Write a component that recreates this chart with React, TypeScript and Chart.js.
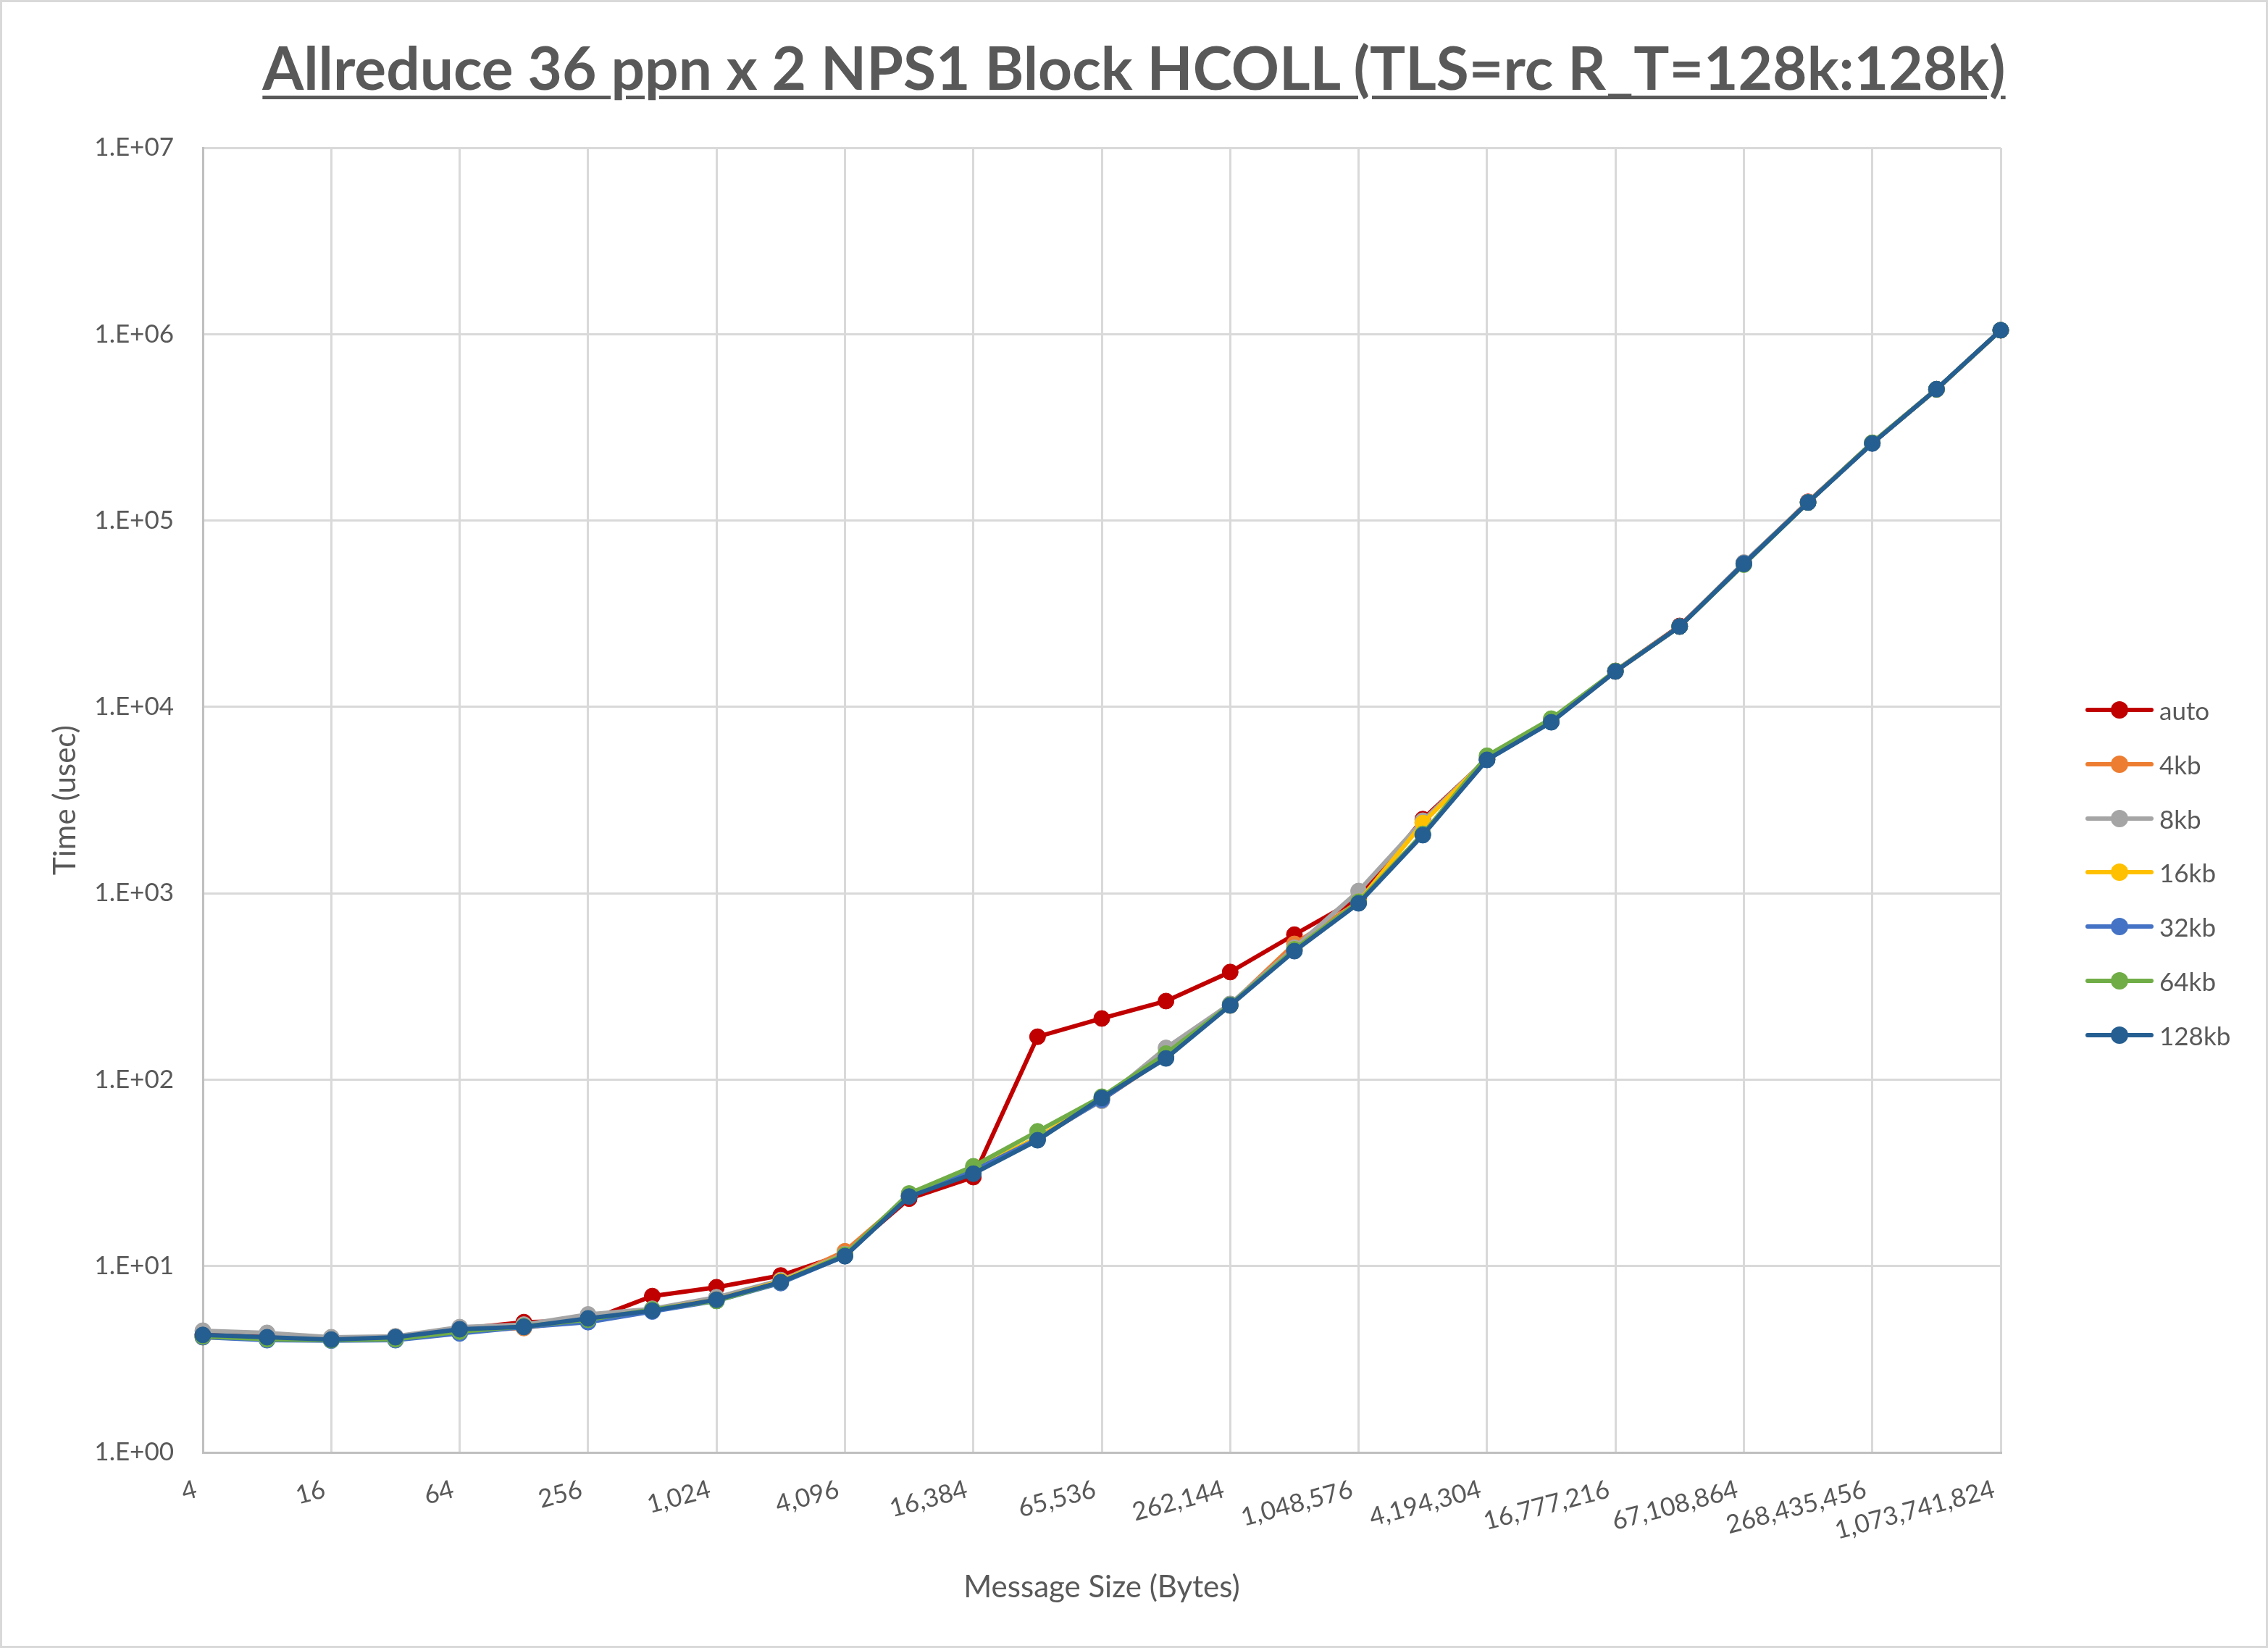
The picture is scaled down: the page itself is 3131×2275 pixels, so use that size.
import React, { useEffect, useRef } from "react";
import { Chart, registerables } from "chart.js";

Chart.register(...registerables);

// ---- data ----
const messageSizes = [
  "4", "8", "16", "32", "64", "128", "256", "512", "1,024", "2,048", "4,096",
  "8,192", "16,384", "32,768", "65,536", "131,072", "262,144", "524,288",
  "1,048,576", "2,097,152", "4,194,304", "8,388,608", "16,777,216",
  "33,554,432", "67,108,864", "134,217,728", "268,435,456", "536,870,912",
  "1,073,741,824",
];

const seriesNames = ["auto", "4kb", "8kb", "16kb", "32kb", "64kb", "128kb"];
const seriesColors = ["#C00000", "#ED7D31", "#A5A5A5", "#FFC000", "#4472C4", "#70AD47", "#255E91"];

const autoTimes = [4.3, 4.2, 4.1, 4.15, 4.6, 5.0, 5.1, 6.9, 7.7, 8.9, 11.6, 23.0, 30, 170, 213, 264, 378, 600, 940, 2500, 5250, 8400, 15600, 27200, 59000, 126000, 260000, 506000, 1050000];
const kb4Times = [4.2, 4.1, 4.05, 4.1, 4.5, 4.65, 5.2, 5.8, 6.7, 8.3, 12.0, 23.8, 32, 48, 78, 132, 252, 535, 900, 2400, 5250, 8350, 15500, 27000, 59000, 125000, 261000, 506000, 1050000];
const kb8Times = [4.5, 4.38, 4.15, 4.2, 4.7, 4.85, 5.5, 5.9, 6.8, 8.4, 11.6, 24, 32.5, 49, 77, 148, 255, 510, 1028, 2450, 5300, 8400, 15600, 27000, 59500, 125500, 261000, 506000, 1050000];
const kb16Times = [4.15, 4.05, 4.0, 4.05, 4.45, 4.7, 5.1, 5.8, 6.6, 8.3, 11.5, 24, 33, 49, 79, 135, 250, 500, 900, 2380, 5300, 8350, 15500, 27000, 59000, 125000, 261000, 506000, 1050000];
const kb32Times = [4.15, 4.0, 3.98, 4.0, 4.35, 4.7, 5.0, 5.7, 6.5, 8.1, 11.3, 23.8, 32.5, 48, 78, 133, 252, 495, 890, 2080, 5200, 8300, 15500, 27000, 59000, 125000, 261000, 506000, 1050000];
const kb64Times = [4.2, 4.05, 4.0, 4.05, 4.45, 4.75, 5.15, 5.85, 6.5, 8.2, 11.5, 24.5, 34.3, 52.8, 81, 138, 252, 500, 900, 2080, 5470, 8650, 15600, 27000, 58000, 125000, 261000, 506000, 1050000];
const kb128Times = [4.27, 4.15, 4.03, 4.15, 4.58, 4.72, 5.24, 5.76, 6.6, 8.2, 11.3, 23.6, 31.3, 47.3, 79.8, 130, 250, 489, 883, 2050, 5200, 8270, 15500, 27000, 58500, 125000, 259000, 507000, 1050000];

const yTickValues = [1, 10, 100, 1000, 10000, 100000, 1000000, 10000000];
const yTickLabels = ["1.E+00", "1.E+01", "1.E+02", "1.E+03", "1.E+04", "1.E+05", "1.E+06", "1.E+07"];

const chartTitle = "Allreduce 36 ppn x 2 NPS1 Block HCOLL (TLS=rc R_T=128k:128k)";
const xTitle = "Message Size (Bytes)";
const yTitle = "Time (usec)";

const allSeries = [autoTimes, kb4Times, kb8Times, kb16Times, kb32Times, kb64Times, kb128Times];

const W = 3131;
const H = 2275;
const TEXT = "#595959";
const FONT = "Lato";

export default function App() {
  const ref = useRef<HTMLCanvasElement>(null);

  useEffect(() => {
    const canvas = ref.current;
    if (!canvas) return;
    const chart = new Chart(canvas, {
      type: "line",
      data: {
        labels: messageSizes,
        datasets: allSeries.map((vals, i) => ({
          label: seriesNames[i],
          data: vals,
          borderColor: seriesColors[i],
          backgroundColor: seriesColors[i],
          pointBackgroundColor: seriesColors[i],
          pointBorderColor: seriesColors[i],
          borderWidth: 6,
          pointRadius: 11,
          pointBorderWidth: 1,
          tension: 0,
          order: allSeries.length - i,
        })),
      },
      options: {
        responsive: false,
        devicePixelRatio: 1,
        animation: false,
        layout: { padding: { top: 204, right: 369, bottom: 0, left: 0 } },
        plugins: {
          legend: { display: false },
          title: { display: false },
          tooltip: { enabled: false },
        },
        scales: {
          x: {
            type: "category",
            offset: false,
            grid: {
              color: (ctx: any) => (ctx.index % 2 === 0 ? "#D9D9D9" : "rgba(0,0,0,0)"),
              lineWidth: 3,
              drawTicks: false,
            },
            border: { color: "#BFBFBF", width: 3 },
            ticks: {
              autoSkip: false,
              minRotation: 15,
              maxRotation: 15,
              padding: 30,
              labelOffset: -9,
              color: TEXT,
              font: { family: FONT, size: 35 },
              callback: (_v: any, idx: number) => (idx % 2 === 0 ? messageSizes[idx] : ""),
            },
            title: {
              display: true,
              text: xTitle,
              color: TEXT,
              font: { family: FONT, size: 42 },
              padding: { top: 0, bottom: 58 },
            },
            afterFit: (scale: any) => {
              scale.height = H - 2005;
            },
          },
          y: {
            type: "logarithmic",
            min: 1,
            max: 10000000,
            grid: { color: "#D9D9D9", lineWidth: 3, drawTicks: false },
            border: { color: "#BFBFBF", width: 3 },
            afterBuildTicks: (scale: any) => {
              scale.ticks = yTickValues.map((v) => ({ value: v }));
            },
            ticks: {
              padding: 40,
              color: TEXT,
              font: { family: FONT, size: 35 },
              callback: (v: any) => {
                const idx = yTickValues.indexOf(Number(v));
                return idx >= 0 ? yTickLabels[idx] : "";
              },
            },
            title: {
              display: true,
              text: yTitle,
              color: TEXT,
              font: { family: FONT, size: 42 },
              padding: { top: 65, bottom: 0 },
            },
            afterFit: (scale: any) => {
              scale.width = 280;
            },
          },
        },
      },
    } as any);
    return () => chart.destroy();
  }, []);

  const legendTop = 980;
  const legendStep = 74.8;

  return (
    <div
      style={{
        position: "fixed",
        left: 0,
        top: 0,
        width: W,
        height: H,
        background: "#fff",
        fontFamily: FONT,
        overflow: "hidden",
      }}
    >
      <canvas
        ref={ref}
        width={W}
        height={H}
        style={{ position: "absolute", left: 0, top: 0, width: W, height: H }}
      />
      <div
        style={{
          position: "absolute",
          left: 0,
          top: 0,
          width: W,
          height: H,
          boxSizing: "border-box",
          border: "3px solid #D9D9D9",
          pointerEvents: "none",
        }}
      />
      <div
        style={{
          position: "absolute",
          left: 0,
          width: W,
          top: 51,
          textAlign: "center",
          fontSize: 82,
          lineHeight: "82px",
          fontWeight: 700,
          color: TEXT,
          textDecoration: "underline",
          textDecorationThickness: "5px",
          textUnderlineOffset: "8px",
          whiteSpace: "nowrap",
        }}
      >
        {chartTitle}
      </div>
      {seriesNames.map((name, i) => {
        const cy = legendTop + i * legendStep;
        return (
          <div key={name}>
            <div
              style={{
                position: "absolute",
                left: 2879,
                top: cy - 3,
                width: 94,
                height: 6,
                borderRadius: 3,
                background: seriesColors[i],
              }}
            />
            <div
              style={{
                position: "absolute",
                left: 2926 - 12,
                top: cy - 12,
                width: 24,
                height: 24,
                borderRadius: 12,
                background: seriesColors[i],
              }}
            />
            <div
              style={{
                position: "absolute",
                left: 2981,
                top: cy - 21,
                height: 42,
                lineHeight: "42px",
                fontSize: 35,
                color: TEXT,
                whiteSpace: "nowrap",
              }}
            >
              {name}
            </div>
          </div>
        );
      })}
    </div>
  );
}
